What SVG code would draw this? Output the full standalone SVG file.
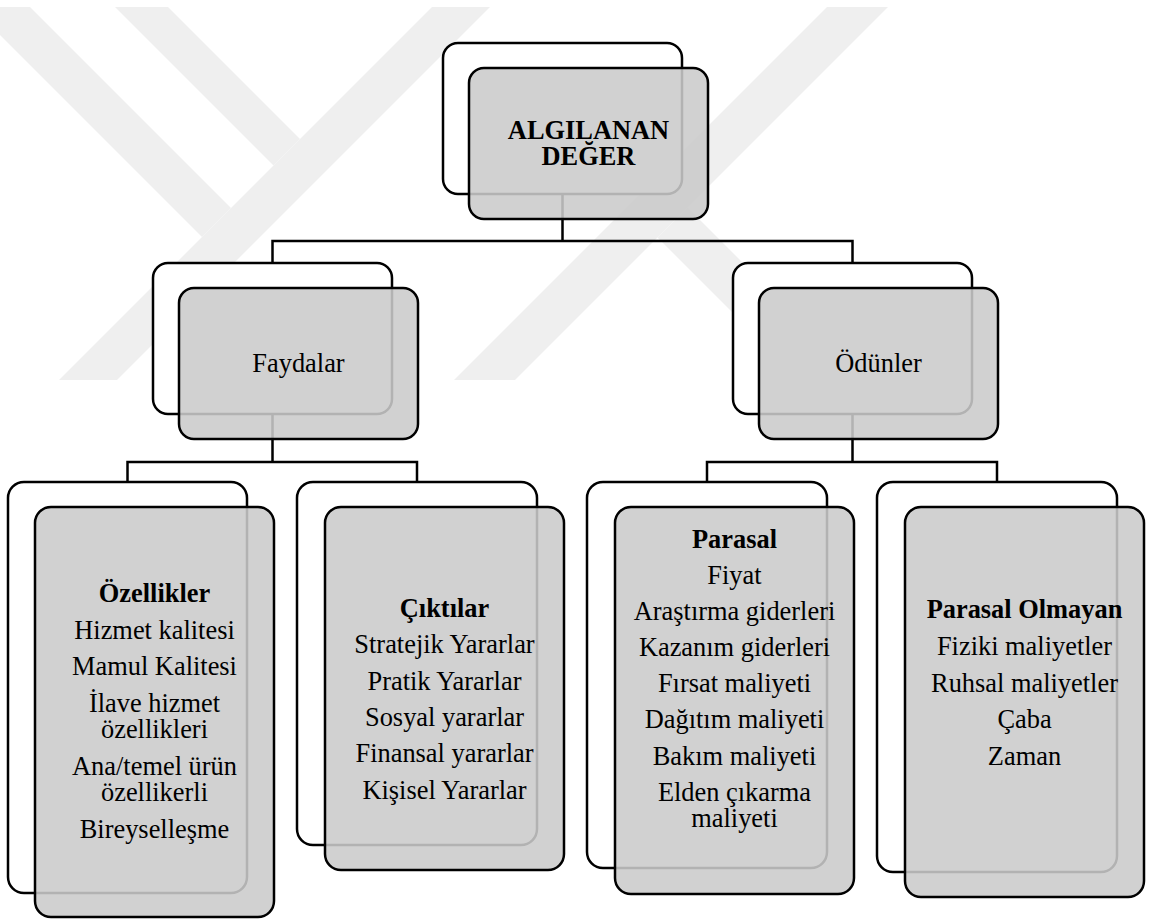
<svg xmlns="http://www.w3.org/2000/svg" width="1158" height="919" viewBox="0 0 1158 919">
<style>
.wm{fill:#efefef}
.b{fill:#fff;stroke:#000;stroke-width:2.5}
.f{fill:#cbcbcb;fill-opacity:.88;stroke:#000;stroke-width:2.5}
.c{fill:none;stroke:#000;stroke-width:2.5}
.t{font-family:"Liberation Serif","Times New Roman",serif;font-size:26.4px;text-anchor:middle;fill:#000}
.bd{font-weight:bold}
</style>
<rect width="1158" height="919" fill="#fff"/>
<g id="watermark">
<polygon class="wm" points="-28,7 30,7 231,208 202,237"/>
<polygon class="wm" points="115,7 168,7 300,139 273.5,165.5"/>
<polygon class="wm" points="432,7 490,7 117,380 59,380"/>
<polygon class="wm" points="827,7 888,7 515,380 454,380"/>
<polygon class="wm" points="687.5,207.5 657.5,237.5 800,380 860,380"/>
</g>
<g id="connectors">
<path class="c" d="M562.5,194 V241 H272.5 V263 M562.5,241 H852.5 V263"/>
<path class="c" d="M272.5,414 V462 H127.5 V482 M272.5,462 H417 V482"/>
<path class="c" d="M852.5,414 V462 H707 V482 M852.5,462 H997 V482"/>
</g>
<g id="node-algilanan-deger">
<rect class="b" x="443" y="43" width="239" height="151" rx="15"/>
<rect class="f" x="469" y="68" width="239" height="151" rx="15"/>
<text class="t bd" x="588.5" y="139">ALGILANAN</text>
<text class="t bd" x="588.5" y="165">DEĞER</text>
</g>
<g id="node-faydalar">
<rect class="b" x="153" y="263" width="239" height="151" rx="15"/>
<rect class="f" x="179" y="288" width="239" height="151" rx="15"/>
<text class="t" x="298.5" y="372">Faydalar</text>
</g>
<g id="node-odunler">
<rect class="b" x="733" y="263" width="239" height="151" rx="15"/>
<rect class="f" x="759" y="288" width="239" height="151" rx="15"/>
<text class="t" x="878.5" y="372">Ödünler</text>
</g>
<g id="node-ozellikler">
<rect class="b" x="8" y="482" width="239" height="411" rx="16"/>
<rect class="f" x="35" y="507" width="239" height="410" rx="16"/>
<text class="t bd" x="154.5" y="602">Özellikler</text>
<text class="t" x="154.5" y="639">Hizmet kalitesi</text>
<text class="t" x="154.5" y="675">Mamul Kalitesi</text>
<text class="t" x="154.5" y="712">İlave hizmet</text>
<text class="t" x="154.5" y="738">özellikleri</text>
<text class="t" x="154.5" y="775">Ana/temel ürün</text>
<text class="t" x="154.5" y="801">özellikerli</text>
<text class="t" x="154.5" y="838">Bireyselleşme</text>
</g>
<g id="node-ciktilar">
<rect class="b" x="297" y="482" width="240" height="363" rx="16"/>
<rect class="f" x="325" y="507" width="239" height="363" rx="16"/>
<text class="t bd" x="444.5" y="617">Çıktılar</text>
<text class="t" x="444.5" y="653">Stratejik Yararlar</text>
<text class="t" x="444.5" y="689.5">Pratik Yararlar</text>
<text class="t" x="444.5" y="726">Sosyal yararlar</text>
<text class="t" x="444.5" y="762">Finansal yararlar</text>
<text class="t" x="444.5" y="798.5">Kişisel Yararlar</text>
</g>
<g id="node-parasal">
<rect class="b" x="587" y="482" width="240" height="386" rx="16"/>
<rect class="f" x="615" y="507" width="239" height="387" rx="16"/>
<text class="t bd" x="734.5" y="548">Parasal</text>
<text class="t" x="734.5" y="583.5">Fiyat</text>
<text class="t" x="734.5" y="620">Araştırma giderleri</text>
<text class="t" x="734.5" y="656">Kazanım giderleri</text>
<text class="t" x="734.5" y="692">Fırsat maliyeti</text>
<text class="t" x="734.5" y="728">Dağıtım maliyeti</text>
<text class="t" x="734.5" y="764.5">Bakım maliyeti</text>
<text class="t" x="734.5" y="801">Elden çıkarma</text>
<text class="t" x="734.5" y="827">maliyeti</text>
</g>
<g id="node-parasal-olmayan">
<rect class="b" x="877" y="482" width="240" height="390" rx="16"/>
<rect class="f" x="905" y="507" width="239" height="390" rx="16"/>
<text class="t bd" x="1024.5" y="617.5">Parasal Olmayan</text>
<text class="t" x="1024.5" y="655">Fiziki maliyetler</text>
<text class="t" x="1024.5" y="691.5">Ruhsal maliyetler</text>
<text class="t" x="1024.5" y="728">Çaba</text>
<text class="t" x="1024.5" y="764.5">Zaman</text>
</g>
</svg>
